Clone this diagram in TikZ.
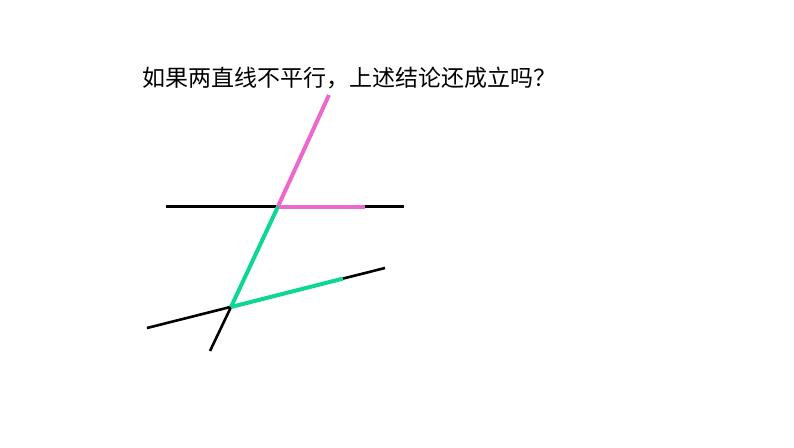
\documentclass[tikz,border=0pt]{standalone}
\usepackage{fontspec}
\newfontfamily\cjk{Noto Sans CJK SC}
\usetikzlibrary{positioning}
\definecolor{pinkline}{RGB}{236,104,204}
\definecolor{greenline}{RGB}{14,214,150}
\tikzset{
	thin line/.style={line width=2.6pt, black},
	pink line/.style={line width=4pt, pinkline},
	green line/.style={line width=4pt, greenline}
}

\begin{document}
\begin{tikzpicture}[x=1pt, y=-1pt]
				\useasboundingbox (0, 0) rectangle (794, 447);
				\node[anchor=west, inner sep=0pt, font=\cjk\fontsize{23pt}{26pt}\selectfont] (Q) at (142, 78) {如果两直线不平行，上述结论还成立吗？};
				\coordinate (L1) at (166, 206.5);
				\coordinate (R1) at (404, 206.5);
				\coordinate (P) at (278, 206.5);
				\coordinate (P2) at (365, 206.5);
				\coordinate (T) at (329, 95);
				\coordinate (G) at (231, 307);
				\coordinate (L2) at (147, 328);
				\coordinate (R2) at (385, 268);
				\coordinate (G2) at (343, 278.6);
				\coordinate (B) at (210, 351);
				\draw[thin line] (L1) -- (R1);
				\draw[thin line] (L2) -- (R2);
				\draw[thin line] (G) -- (B);
				\draw[pink line] (P) -- (P2);
				\draw[pink line] (P) -- (T);
				\draw[green line] (P) -- (G);
				\draw[green line] (G) -- (G2);
			\end{tikzpicture}
\end{document}
